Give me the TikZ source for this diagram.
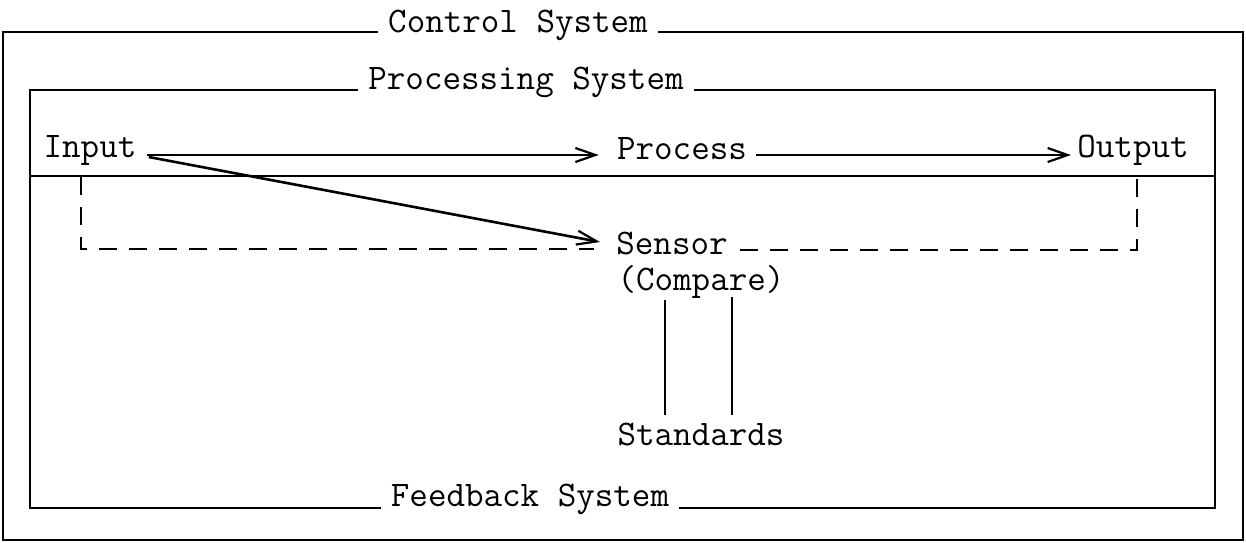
\documentclass[tikz,border=0pt]{standalone}
\usetikzlibrary{arrows.meta,calc}
\begin{document}
\begin{tikzpicture}[x=0.5pt,y=-0.5pt,
  every node/.style={font=\ttfamily\fontsize{18}{20}\selectfont, inner sep=0pt},
  ln/.style={line width=1.3pt},
  arr/.style={ln, -{Straight Barb[length=10pt,width=7pt,line width=1.1pt]}},
  dsh/.style={line width=1.1pt, dash pattern=on 9pt off 6pt},
  title/.style={fill=white, inner xsep=5pt, inner ysep=3pt, anchor=base}]
\useasboundingbox (0,0) rectangle (1246,542);
\fill[white] (0,0) rectangle (1246,542);
% boxes
\draw[ln] (3,32) rectangle (1243,540);
\draw[ln] (30,90) rectangle (1215,508);
\draw[ln] (30,176) -- (1215,176);
% titles
\node[title] (ctl) at (518,32) {Control System};
\node[title] (prs) at (526,89) {Processing System};
\node[title] (fbs) at (530,506) {Feedback System};
% nodes
\node[anchor=base] (in) at (90,157) {Input};
\node[anchor=base] (proc) at (682,159) {Process};
\node[anchor=base] (out) at (1133,157) {Output};
\node[anchor=base] (sen) at (672,254) {Sensor};
\node[anchor=base] (cmp) at (701,290) {(Compare)};
\node[anchor=base] (std) at (701,445) {Standards};
% arrows
\draw[arr] ($(in.base east)+(10,-2)$) -- ($(proc.base west)+(-18,-4)$);
\draw[arr] ($(proc.base east)+(9,-4)$) -- ($(out.base west)+(-6,-2)$);
\draw[arr] ($(in.base east)+(12,0)$) -- ($(sen.base west)+(-16,-12)$);
% dashed feedback loop
\coordinate (dl) at (81,177);
\coordinate (dr) at (1137,177);
\draw[dsh] (dl) |- ($(sen.base west)+(-22,-5)$);
\draw[dsh] ($(sen.base east)+(12,-4)$) -| (dr);
% link to standards
\coordinate (v1a) at (665,300);
\coordinate (v1b) at (665,415);
\coordinate (v2a) at (732,297);
\coordinate (v2b) at (732,415);
\draw[ln] (v1a) -- (v1b);
\draw[ln] (v2a) -- (v2b);
\end{tikzpicture}
\end{document}
